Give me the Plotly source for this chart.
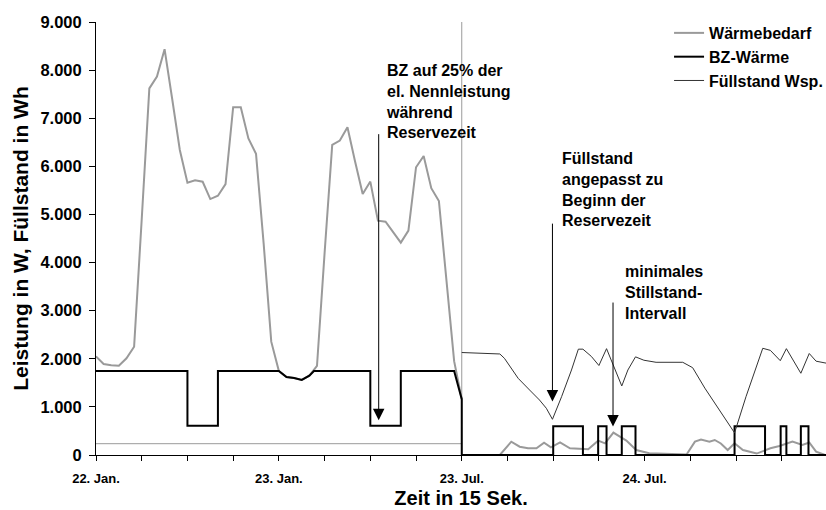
import plotly.graph_objects as go

# ---- data (x in hours since 22. Jan 00:00; Jul part continues after 48) ----
bedarf_jan_x = list(range(0, 49))
bedarf_jan_y = [2050, 1890, 1865, 1857, 2010, 2250, 4900, 7620, 7865, 8435,
                7400, 6340, 5660, 5710, 5680, 5320, 5390, 5630, 7230, 7230,
                6580, 6260, 4400, 2355, 1745, 1620, 1600, 1560, 1650, 1850,
                4200, 6445, 6535, 6812, 6100, 5426, 5683, 4871, 4850, 4630,
                4414, 4663, 5981, 6216, 5545, 5280, 3600, 1950, 1160]

bedarf_jul_x = [48, 53, 54.5, 55.6, 56.7, 57.8, 58.8, 59.7, 60.9, 62.2, 64.6,
                65.9, 66.8, 67.9, 69.6, 70.9, 72.6, 77.5, 78.6, 79.4, 80.5,
                81.2, 82.0, 82.9, 83.8, 84.9, 86.7, 88.5, 89.7, 91.4, 92.7,
                93.6, 94.5, 95.6]
bedarf_jul_y = [0, 0, 277, 173, 139, 139, 256, 160, 260, 139, 120,
                298, 243, 464, 300, 104, 35, 10, 277, 320, 277,
                312, 240, 104, 243, 104, 30, 139, 187, 277, 208,
                260, 69, 5]

bz_x = [0, 12, 12, 16, 16, 24, 25, 26, 27, 28, 28.6, 36, 36, 40, 40, 47, 48,
        48, 60, 60, 63.9, 63.9, 65.9, 65.9, 67, 67, 69, 69, 70.8, 70.8,
        83.8, 83.8, 87.8, 87.8, 89.85, 89.85, 90.6, 90.6, 92.5, 92.5, 93.5,
        93.5, 95.8]
bz_y = [1745, 1745, 610, 610, 1745, 1745, 1620, 1600, 1560, 1650, 1745, 1745,
        610, 610, 1745, 1745, 1160,
        0, 0, 600, 600, 0, 0, 600, 600, 0, 0, 600, 600, 0,
        0, 600, 600, 0, 0, 600, 600, 0, 0, 600, 600,
        0, 0]

fuell_jan_x = [0, 48]
fuell_jan_y = [235, 235]

fuell_jul_x = [48, 53, 53.6, 55.4, 56.9, 58.2, 59.1, 59.9, 61.1, 62.4, 63.3,
               63.9, 65.0, 66.0, 67.0, 67.9, 69.0, 69.8, 70.8, 71.9, 73.5,
               77.0, 78.3, 79.9, 81.4, 82.7, 83.8, 85.3, 87.5, 88.5, 89.8,
               90.6, 92.5, 93.6, 94.5, 95.8]
fuell_jul_y = [2130, 2100, 2010, 1594, 1351, 1143, 971, 742, 1212, 1767, 2200,
               2200, 2050, 1860, 2210, 1870, 1435, 1767, 2040, 1970, 1927,
               1927, 1815, 1390, 1040, 728, 460, 1212, 2218, 2175, 1960,
               2210, 1699, 2110, 1950, 1910]

tick_vals = list(range(0, 97, 6))
tick_text = ["22. Jan.", "", "", "", "23. Jan.", "", "", "", "23. Jul.",
             "", "", "", "24. Jul.", "", "", "", ""]

FONT = "Arial, Liberation Sans, sans-serif"
GRAY = "#9a9a9a"

fig = go.Figure()
fig.add_trace(go.Scatter(x=bedarf_jan_x, y=bedarf_jan_y, mode="lines",
                         line=dict(color=GRAY, width=2), name="Wärmebedarf"))
fig.add_trace(go.Scatter(x=bedarf_jul_x, y=bedarf_jul_y, mode="lines",
                         line=dict(color=GRAY, width=2), name="Wärmebedarf",
                         showlegend=False))
fig.add_trace(go.Scatter(x=fuell_jan_x, y=fuell_jan_y, mode="lines",
                         line=dict(color=GRAY, width=1), name="Füllstand Wsp.",
                         showlegend=False))
fig.add_trace(go.Scatter(x=bz_x, y=bz_y, mode="lines",
                         line=dict(color="black", width=2), name="BZ-Wärme"))
fig.add_trace(go.Scatter(x=fuell_jul_x, y=fuell_jul_y, mode="lines",
                         line=dict(color="#333333", width=1),
                         name="Füllstand Wsp."))

# separator between Jan and Jul
fig.add_shape(type="line", x0=48, x1=48, y0=0, y1=9000, xref="x", yref="y",
              line=dict(color=GRAY, width=1), layer="below")

txt_font = dict(family=FONT, size=16, color="black", weight="bold")
annos = [
    dict(x=37.8, y=8217, text="BZ auf 25% der<br>el. Nennleistung<br>während<br>Reservezeit"),
    dict(x=60.85, y=6390, text="Füllstand<br>angepasst zu<br>Beginn der<br>Reservezeit"),
    dict(x=69.2, y=4040, text="minimales<br>Stillstand-<br>Intervall"),
]
for a in annos:
    fig.add_annotation(x=a["x"], y=a["y"], xref="x", yref="y", text=a["text"],
                       showarrow=False, xanchor="left", yanchor="top",
                       align="left", font=txt_font)

arrows = [(37.1, 6700, 37.1, 720), (59.9, 4840, 59.9, 1110), (67.85, 3200, 67.85, 590)]
for (x0, y0, x1, y1) in arrows:
    fig.add_annotation(x=x1, y=y1, ax=x0, ay=y0, xref="x", yref="y",
                       axref="x", ayref="y", text="", showarrow=True,
                       arrowhead=2, arrowsize=2.3, arrowwidth=1,
                       arrowcolor="black")

fig.update_layout(
    width=826, height=510,
    margin=dict(l=96, r=0, t=22, b=55, autoexpand=False),
    paper_bgcolor="white", plot_bgcolor="white",
    separators=",.",
    font=dict(family=FONT, color="black"),
    showlegend=True,
    legend=dict(x=0.785, y=1.0139, xanchor="left", yanchor="top",
                font=dict(family=FONT, size=16, color="black", weight="bold"),
                bgcolor="rgba(0,0,0,0)", tracegroupgap=0, itemwidth=30,
                traceorder="normal"),
    xaxis=dict(range=[0, 95.8], tickmode="array", tickvals=tick_vals,
               ticktext=tick_text, showgrid=False, zeroline=False,
               showline=True, linecolor="black", linewidth=1,
               ticks="outside", ticklen=5, tickcolor="black",
               tickfont=dict(family=FONT, size=13, weight="bold"),
               ticklabelstandoff=6, automargin=False,
               title=dict(text="Zeit in 15 Sek.", standoff=6,
                          font=dict(family=FONT, size=20, weight="bold"))),
    yaxis=dict(range=[0, 9000], tickmode="array",
               tickvals=list(range(0, 9001, 1000)),
               tickformat=",d", showgrid=False, zeroline=False,
               showline=True, linecolor="black", linewidth=1,
               ticks="outside", ticklen=6, tickcolor="black",
               tickfont=dict(family=FONT, size=16.5, weight="bold"),
               ticklabelstandoff=4, automargin=False,
               title=dict(text="Leistung in W, Füllstand in Wh", standoff=6,
                          font=dict(family=FONT, size=21, weight="bold"))),
)

fig.write_html("out.html", config={"displayModeBar": False},
               post_script="document.body.style.margin='0';"
                           "document.body.style.overflow='hidden';")
